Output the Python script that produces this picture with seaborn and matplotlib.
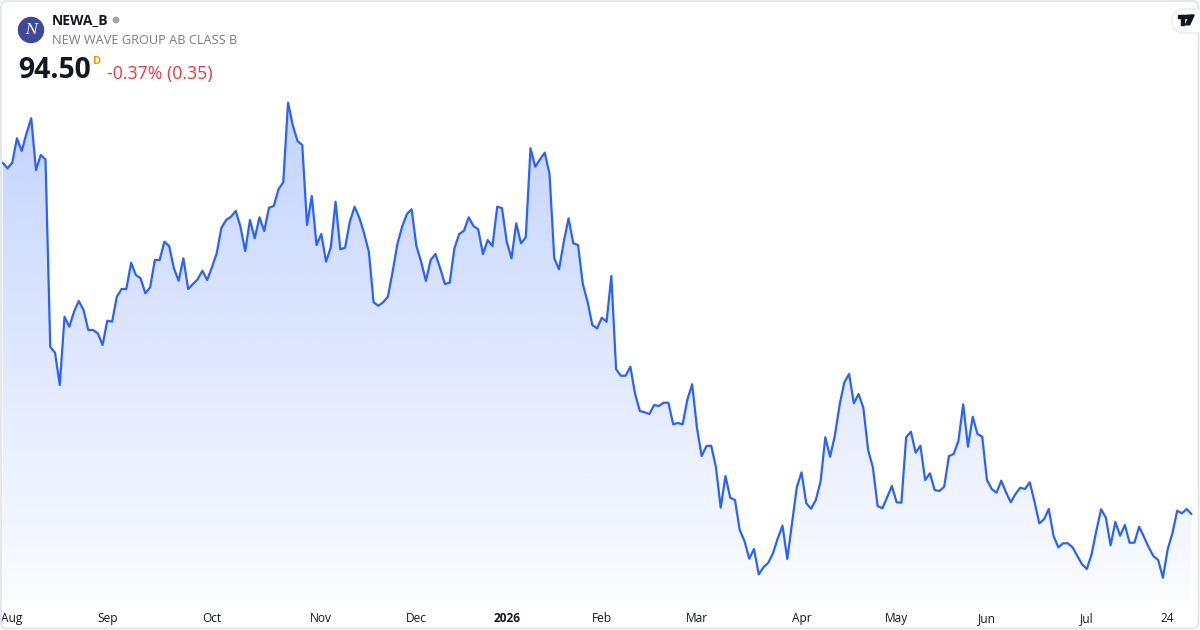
import numpy as np
import pandas as pd
import matplotlib
matplotlib.use("Agg")
import matplotlib.pyplot as plt
import matplotlib.transforms as mtransforms
from matplotlib.patches import Circle, FancyBboxPatch, Rectangle, Polygon
import seaborn as sns

# ---------------- data ----------------
holidays = ["2025-12-24", "2025-12-25", "2025-12-26", "2025-12-31", "2026-01-01",
            "2026-01-06", "2026-04-03", "2026-04-06", "2026-05-01", "2026-05-14",
            "2026-06-19"]
dates = pd.bdate_range("2025-07-31", "2026-07-31", freq="C", holidays=holidays)

close = [
    119.09, 118.70, 119.09, 120.80, 119.91, 121.15, 122.20, 118.58, 119.63, 119.33,
    106.21, 105.79, 103.53, 108.31, 107.61, 108.66, 109.41, 108.78, 107.38, 107.38,
    107.15, 106.33, 108.03, 107.96, 109.71, 110.25, 110.25, 112.09, 111.23, 111.00,
    109.95, 110.37, 112.28, 112.28, 113.56, 113.26, 111.70, 110.83, 112.40, 110.25,
    110.60, 110.93, 111.53, 110.88, 111.77, 112.75, 114.54, 115.08, 115.31, 115.71,
    114.61, 112.91, 115.08, 113.80, 115.27, 114.31, 115.94, 116.06, 117.23, 117.72,
    123.29, 121.73, 120.61, 120.33, 114.73, 116.76, 113.33, 114.10, 112.16, 113.17,
    116.36, 113.03, 113.14, 114.96, 116.01, 115.24, 114.15, 112.86, 109.32, 109.08,
    109.32, 109.71, 111.46, 113.40, 114.61, 115.50, 115.83, 113.26, 112.16, 110.81,
    112.28, 112.70, 111.70, 110.60, 110.69, 113.10, 114.10, 114.33, 115.27, 114.66,
    114.43, 112.70, 113.68, 113.26, 116.01, 115.92, 113.56, 112.40, 114.85, 113.45,
    113.87, 120.10, 118.81, 119.33, 119.79, 118.30, 112.40, 111.63, 113.56, 115.20,
    113.45, 113.33, 110.60, 109.36, 107.73, 107.50, 108.24, 107.96, 111.16, 104.63,
    104.18, 104.18, 104.81, 102.90, 101.71, 101.62, 101.50, 102.13, 102.06, 102.29,
    102.29, 100.78, 100.87, 100.78, 102.53, 103.58, 100.54, 98.56, 99.26, 99.28,
    97.77, 94.94, 97.16, 95.64, 95.48, 93.38, 92.61, 91.37, 92.05, 90.28,
    90.77, 91.09, 91.75, 92.80, 93.68, 91.35, 93.85, 96.37, 97.42, 95.25,
    94.87, 95.48, 96.76, 99.87, 98.51, 99.98, 102.13, 103.72, 104.30, 102.25,
    102.90, 101.94, 98.98, 97.77, 95.06, 94.90, 95.67, 96.46, 95.32, 95.29,
    99.87, 100.26, 98.79, 99.28, 96.88, 97.35, 96.18, 96.11, 96.41, 98.56,
    98.70, 99.63, 102.18, 99.21, 101.31, 100.10, 99.91, 96.88, 96.25, 95.99,
    96.83, 96.02, 95.32, 95.90, 96.34, 96.25, 96.72, 95.36, 93.85, 94.13,
    94.85, 92.96, 92.17, 92.45, 92.45, 92.17, 91.56, 90.98, 90.65, 91.68,
    93.33, 94.83, 94.24, 92.31, 93.94, 92.98, 93.73, 92.49, 92.49, 93.61,
    92.91, 92.17, 91.56, 91.28, 90.04, 92.03, 93.15, 94.73, 94.55, 94.85,
    94.50,
]

tick_dates = ["2025-08-01", "2025-09-01", "2025-10-01", "2025-11-03", "2025-12-01",
              "2026-01-02", "2026-02-02", "2026-03-02", "2026-04-01", "2026-05-04",
              "2026-06-01", "2026-07-01", "2026-07-24"]
tick_labels = ["Aug", "Sep", "Oct", "Nov", "Dec", "2026", "Feb", "Mar", "Apr", "May",
               "Jun", "Jul", "24"]

ticker = "NEWA_B"
company = "NEW WAVE GROUP AB CLASS B"
last_price = "94.50"
change_text = "-0.37% (0.35)"

n = min(len(dates), len(close))
df = pd.DataFrame({"i": np.arange(n), "date": dates[:n], "close": close[:n]})

# ---------------- style ----------------
sns.set_style("white")
plt.rcParams["font.family"] = ["Open Sans", "DejaVu Sans"]

W, H = 1200, 630
fig = plt.figure(figsize=(W / 100, H / 100), dpi=100)
fig.patch.set_facecolor("white")

XMIN, XMAX = -0.57, 251.8
YMIN, YMAX = 88.48, 130.48
ax = fig.add_axes([0, 30 / H, 1, 600 / H])
ax.set_facecolor("none")

LINE = "#2962FF"
sns.lineplot(data=df, x="i", y="close", ax=ax, color=LINE, linewidth=1.6, zorder=3)

poly = ax.fill_between(df["i"], df["close"], YMIN, color="none", linewidth=0)
alpha = np.linspace(0.28, 0.02, 256)
img = np.zeros((256, 1, 4))
img[..., 0] = 41 / 255
img[..., 1] = 98 / 255
img[..., 2] = 1.0
img[:, 0, 3] = alpha
im = ax.imshow(img, extent=(XMIN, XMAX, YMIN, df["close"].max()), aspect="auto",
               origin="upper", zorder=1, interpolation="bilinear")
im.set_clip_path(poly.get_paths()[0], transform=ax.transData)

ax.set_xlim(XMIN, XMAX)
ax.set_ylim(YMIN, YMAX)
ax.set_xlabel("")
ax.set_ylabel("")
ax.set_yticks([])
for s in ax.spines.values():
    s.set_visible(False)

tick_pos = [dates.get_loc(pd.Timestamp(d)) for d in tick_dates]
ax.set_xticks(tick_pos, tick_labels)
ax.tick_params(axis="x", length=0, pad=8.5, labelsize=8.6, labelcolor="#131722")
labels = ax.get_xticklabels()
labels[5].set_fontweight("bold")
labels[0].set_transform(labels[0].get_transform() +
                        mtransforms.ScaledTranslation(4.5 / 100, 0, fig.dpi_scale_trans))

# ---------------- header overlay (pixel coords) ----------------
ov = fig.add_axes([0, 0, 1, 1], zorder=10)
ov.set_xlim(0, W)
ov.set_ylim(H, 0)
ov.axis("off")
ov.patch.set_alpha(0)

# frame
ov.add_patch(FancyBboxPatch((1, 1), W - 2.5, H - 2.5,
                            boxstyle="round,pad=0,rounding_size=6",
                            fill=False, edgecolor="#e0e3eb", linewidth=1.2))

# logo
ov.add_patch(Circle((31, 30), 12.5, color="#3e4a98"))
ov.text(31, 30.5, "N", color="white", fontsize=10, ha="center", va="center",
        family="DejaVu Serif", style="italic")

ov.text(52, 20, ticker, fontsize=10, fontweight="bold", color="#131722",
        ha="left", va="center")
ov.add_patch(Circle((116, 20), 2.8, color="#a3a6af"))
ov.text(52, 40.5, company, fontsize=9.2, color="#787b86", ha="left", va="center")

ov.text(18, 70.5, last_price, fontsize=20.3, fontweight="bold", color="#131722",
        ha="left", va="center")
ov.text(92.5, 61, "D", fontsize=8, fontweight="bold", color="#ff9800",
        ha="left", va="center")
ov.text(107, 74, change_text, fontsize=12.8, color="#f23645", ha="left", va="center")

# TradingView badge
ov.add_patch(FancyBboxPatch((1172, 9), 40, 24, boxstyle="round,pad=0,rounding_size=12",
                            facecolor="white", edgecolor="#e9ebf0", linewidth=1.0))
ov.add_patch(Rectangle((1177.5, 15), 8.5, 3.2, color="#131722"))
ov.add_patch(Rectangle((1181, 15), 3.4, 9.8, color="#131722"))
ov.add_patch(Circle((1187.8, 16.8), 1.7, color="#131722"))
ov.add_patch(Polygon([(1185.5, 24.8), (1189.6, 24.8), (1194.2, 15), (1190.1, 15)],
                     closed=True, color="#131722"))

fig.savefig("out.png", dpi=100, facecolor="white")
